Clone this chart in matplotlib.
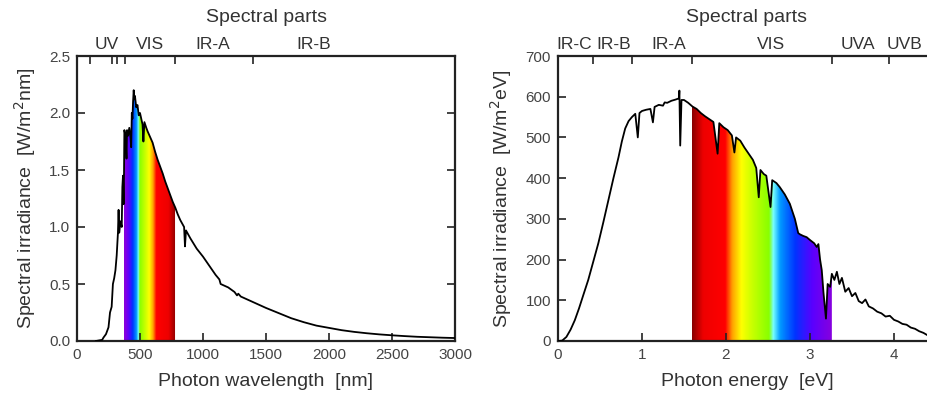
import numpy as np
import matplotlib
matplotlib.use("Agg")
import matplotlib.pyplot as plt
from matplotlib.colors import LinearSegmentedColormap
from matplotlib.patches import Polygon
import matplotlib.transforms as mtransforms

plt.rcParams['font.family'] = ['Liberation Sans', 'DejaVu Sans']

# ---------------- data ----------------
# Left panel: spectral irradiance vs wavelength
wl_nm = [150, 200, 210, 230, 250, 262, 275, 285, 295, 305, 315, 325, 330, 335,
         345, 355, 360, 365, 370, 373, 376, 385, 393, 397, 405, 415, 425, 430,
         435, 440, 445, 450, 455, 460, 470, 480, 490, 500, 510, 520, 527, 535,
         550, 560, 580, 600, 620, 640, 660, 680, 700, 720, 740, 760,
         780, 800, 820, 850, 857, 865, 900, 950, 1000, 1050, 1100, 1130, 1140,
         1200, 1250, 1270, 1280, 1300, 1400, 1500, 1600, 1700, 1800, 1900, 2000,
         2100, 2200, 2300, 2400, 2500, 2600, 2700, 2800, 2900, 3000]
irr_wl = [0.0, 0.01, 0.03, 0.06, 0.12, 0.25, 0.30, 0.50, 0.55, 0.62, 0.75, 0.95,
          1.15, 0.95, 1.05, 1.00, 1.35, 1.45, 1.20, 1.45, 1.85, 1.80, 1.60, 1.85,
          1.80, 1.87, 1.78, 1.70, 2.00, 1.95, 2.10, 2.20, 2.12, 2.15, 2.05, 2.07,
          1.98, 2.00, 1.95, 1.90, 1.75, 1.92, 1.87, 1.84, 1.79, 1.74, 1.66, 1.59,
          1.53, 1.47, 1.40, 1.34, 1.28, 1.22, 1.17, 1.11, 1.06, 1.00,
          0.83, 0.97, 0.90, 0.81, 0.74, 0.66, 0.58, 0.54, 0.50, 0.47, 0.43, 0.40,
          0.415, 0.39, 0.34, 0.29, 0.245, 0.20, 0.165, 0.135, 0.115, 0.095, 0.08,
          0.068, 0.058, 0.05, 0.043, 0.037, 0.033, 0.029, 0.026]

# Right panel: spectral irradiance vs photon energy
en_ev = [0.0, 0.05, 0.1, 0.15, 0.2, 0.25, 0.3, 0.36, 0.42, 0.48, 0.54, 0.6,
         0.66, 0.72, 0.76, 0.8, 0.84, 0.88, 0.92, 0.95, 0.97, 1.0, 1.05, 1.1,
         1.13, 1.15, 1.2, 1.25, 1.27, 1.3, 1.35, 1.4, 1.44, 1.445, 1.455, 1.47,
         1.5, 1.55, 1.6, 1.65, 1.7, 1.75, 1.8, 1.85, 1.9, 1.92, 1.97, 2.02, 2.07,
         2.1, 2.12, 2.17, 2.22, 2.27, 2.32, 2.36, 2.39, 2.41, 2.45, 2.48, 2.53,
         2.55, 2.6, 2.64, 2.7, 2.76, 2.82, 2.86, 2.88, 2.92, 2.96, 3.0, 3.05,
         3.08, 3.1, 3.12, 3.14, 3.16, 3.19, 3.21, 3.24, 3.26, 3.29, 3.32, 3.35,
         3.38, 3.42, 3.46, 3.5, 3.54, 3.58, 3.62, 3.66, 3.7, 3.75, 3.8, 3.85,
         3.9, 3.95, 4.0, 4.05, 4.1, 4.15, 4.2, 4.25, 4.3, 4.35, 4.4, 4.45, 4.5]
irr_ev = [0, 1, 10, 28, 51, 80, 112, 150, 195, 240, 292, 346, 400, 451, 490,
          522, 540, 550, 558, 500, 560, 565, 568, 570, 537, 575, 580, 578, 586,
          585, 590, 593, 596, 615, 480, 592, 592, 585, 576, 570, 560, 552, 545,
          538, 460, 535, 525, 518, 505, 463, 500, 492, 475, 460, 445, 425, 353,
          420, 410, 406, 329, 395, 388, 378, 360, 337, 300, 265, 262, 258, 255,
          248, 240, 231, 238, 200, 174, 120, 55, 140, 133, 165, 150, 170, 140,
          155, 121, 130, 110, 118, 98, 93, 102, 85, 80, 72, 68, 60, 62, 52, 48,
          42, 40, 33, 30, 24, 20, 14, 12, 10]

# Spectral parts (top axis)
wl_bounds = [100, 280, 315, 380, 780, 1400]
wl_part_labels = ['UV', 'VIS', 'IR-A', 'IR-B']
wl_part_pos = [240, 580, 1080, 1880]
ev_bounds = [0.413, 0.886, 1.59, 3.26, 3.94, 4.43]
ev_part_labels = ['IR-C', 'IR-B', 'IR-A', 'VIS', 'UVA', 'UVB']
ev_part_pos = [0.19, 0.66, 1.32, 2.54, 3.57, 4.13]

wl_ticks = [0, 500, 1000, 1500, 2000, 2500, 3000]
wl_yticks = [0.0, 0.5, 1.0, 1.5, 2.0, 2.5]
ev_ticks = [0, 1, 2, 3, 4]
ev_yticks = [0, 100, 200, 300, 400, 500, 600, 700]

# ---------------- styling ----------------
stops_nm = [380, 410, 440, 470, 485, 495, 540, 570, 600, 625, 720, 780]
stops_col = ['#8800dd', '#5a00ff', '#0033ff', '#0099ff', '#77ffff', '#88ff00',
             '#ccff00', '#ffff00', '#ffa000', '#ff0000', '#ee0000', '#880000']
cmap = LinearSegmentedColormap.from_list(
    'spec', [((s - 380) / 400.0, c) for s, c in zip(stops_nm, stops_col)])

TXT = '#333333'
SPINE = '#222222'


def rainbow_fill(ax, x, y, lo, hi, to_nm):
    x = np.asarray(x, float)
    y = np.asarray(y, float)
    m = (x > lo) & (x < hi)
    xs = np.concatenate([[lo], x[m], [hi]])
    ys = np.concatenate([[np.interp(lo, x, y)], y[m], [np.interp(hi, x, y)]])
    verts = [(lo, 0)] + list(zip(xs, ys)) + [(hi, 0)]
    poly = Polygon(verts, closed=True, facecolor='none', edgecolor='none')
    ax.add_patch(poly)
    cols = np.linspace(lo, hi, 500)
    lam = to_nm(cols)
    rgba = cmap(np.clip((lam - 380) / 400.0, 0, 1))[None, :, :]
    im = ax.imshow(rgba, extent=[lo, hi, 0, ys.max()], aspect='auto',
                   origin='lower', zorder=1, interpolation='bilinear')
    im.set_clip_path(poly)


def style_axes(ax):
    for s in ax.spines.values():
        s.set_color(SPINE)
        s.set_linewidth(1.6)
    ax.tick_params(direction='in', length=6, width=1.2, colors=SPINE,
                   labelcolor='#444444', labelsize=11, top=False, right=True,
                   pad=5)


def top_parts(ax, bounds, labels, pos):
    sec = ax.secondary_xaxis('top')
    sec.set_xticks(bounds)
    sec.set_xticklabels([])
    sec.tick_params(direction='in', length=6, width=1.2, colors=SPINE)
    sec.spines['top'].set_visible(False)
    tr = mtransforms.blended_transform_factory(ax.transData, ax.transAxes)
    for l, p in zip(labels, pos):
        ax.text(p, 1.04, l, transform=tr, ha='center', va='center',
                fontsize=12.5, color=TXT)
    ax.text(0.5, 1.135, 'Spectral parts', transform=ax.transAxes,
            ha='center', va='center', fontsize=14, color=TXT)


fig = plt.figure(figsize=(9.28, 3.99), dpi=100)

# Left panel
ax1 = fig.add_axes([77 / 928, 58 / 399, 378 / 928, 285 / 399])
rainbow_fill(ax1, wl_nm, irr_wl, 373, 778, lambda v: v)
ax1.plot(wl_nm, irr_wl, color='black', lw=1.3, zorder=3)
ax1.set_xticks(wl_ticks)
ax1.set_yticks(wl_yticks)
ax1.set_yticklabels([f'{v:.1f}' for v in wl_yticks])
ax1.set_xlim(0, 3000)
ax1.set_ylim(0, 2.5)
style_axes(ax1)
ax1.set_xlabel('Photon wavelength  [nm]', fontsize=14, color=TXT, labelpad=8)
ax1.set_ylabel('Spectral irradiance  [W/m$^2$nm]', fontsize=14, color=TXT,
               labelpad=8)
top_parts(ax1, wl_bounds, wl_part_labels, wl_part_pos)

# Right panel (extends past the right edge of the figure, as in the original)
ax2 = fig.add_axes([558 / 928, 58 / 399, 378 / 928, 285 / 399])
rainbow_fill(ax2, en_ev, irr_ev, 1.59, 3.26, lambda v: 1240.0 / v)
ax2.plot(en_ev, irr_ev, color='black', lw=1.3, zorder=3)
ax2.set_xticks(ev_ticks)
ax2.set_yticks(ev_yticks)
ax2.set_xlim(0, 4.5)
ax2.set_ylim(0, 700)
style_axes(ax2)
ax2.set_xlabel('Photon energy  [eV]', fontsize=14, color=TXT, labelpad=8)
ax2.set_ylabel('Spectral irradiance  [W/m$^2$eV]', fontsize=14, color=TXT,
               labelpad=8)
top_parts(ax2, ev_bounds, ev_part_labels, ev_part_pos)

fig.savefig('out.png', dpi=100)
